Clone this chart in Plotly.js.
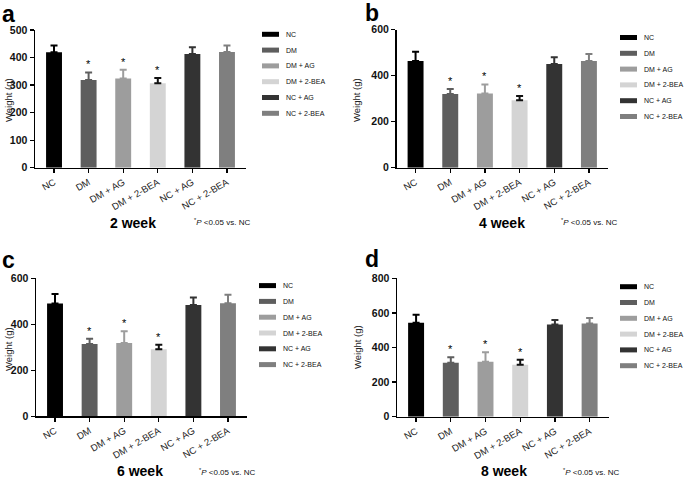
<!DOCTYPE html>
<html><head><meta charset="utf-8">
<script src="https://cdn.plot.ly/plotly-3.0.1.min.js"></script>
<style>html,body{margin:0;padding:0;background:#fff}#chart{width:685px;height:478px}</style>
</head><body><div id="chart"></div>
<script>
// ---- data ----
const groups = ['NC','DM','DM + AG','DM + 2-BEA','NC + AG','NC + 2-BEA'];
const weeks = ['2 week','4 week','6 week','8 week'];
const panelLetters = ['a','b','c','d'];
const mean2 = [419,318,324,307,413,420];
const sd2   = [25,28,32,19,24,24];
const mean4 = [464,320,323,293,451,464];
const sd4   = [40,22,39,19,29,30];
const mean6 = [490,314,319,291,484,491];
const sd6   = [42,23,51,20,32,37];
const mean8 = [543,312,317,300,533,539];
const sd8   = [47,32,56,29,26,32];
const significant = [false,true,true,true,false,false];
const yMax  = [500,600,600,800];
const yStep = [100,200,200,200];
const yTitle = 'Weight (g)';
const footnote = '<sup>*</sup><i>P</i> &lt;0.05 vs. NC';

// ---- styling ----
const means = [mean2,mean4,mean6,mean8];
const sds = [sd2,sd4,sd6,sd8];
const barColors = ['#000000','#5e5e5e','#9d9d9d','#d4d4d4','#333333','#7f7f7f'];
const errColors = ['#000000','#5e5e5e','#9d9d9d','#111111','#333333','#7f7f7f'];
const W = 685, H = 478;
const px = x => x / W, py = y => 1 - y / H;
const FONT = 'Liberation Sans, Arial, sans-serif';

// panel geometry in pixels: [xLeft, xRight, yTop, yBottom]
const geo = [
  [35, 246, 30, 167.7],
  [396.5, 608, 29.7, 167.7],
  [36, 247, 278.3, 416.3],
  [397, 608.7, 278.3, 416.7]
];
const letterPos = [[0,14],[363,13],[0,260],[363,259]];
const titlePos = [[133,223],[502,223],[140,471],[504,471]];
const notePos = [[192,222],[559,222],[197,472],[561,472]];
const yTitlePos = [[8,100],[356,100],[8,349],[357,347]];
const legendPos = [[262,34.3],[620,37.5],[259,285.6],[620,286.7]]; // swatch left, first row center
const legendStep = 15.8;

const traces = [];
const layout = {
  width: W, height: H,
  margin: {l:0, r:0, t:0, b:0},
  paper_bgcolor: '#fff', plot_bgcolor: 'rgba(0,0,0,0)',
  showlegend: false,
  barmode: 'overlay',
  annotations: [], shapes: [],
  font: {family: FONT, color: '#111'}
};

for (let p = 0; p < 4; p++) {
  const sfx = p === 0 ? '' : String(p + 1);
  const [xl, xr, yt, yb] = geo[p];
  layout['xaxis' + sfx] = {
    domain: [px(xl), px(xr)], anchor: 'y' + sfx,
    type: 'category', range: [-0.55, 5.55],
    showline: true, linecolor: '#000', linewidth: 1.5,
    ticks: 'outside', ticklen: 4, tickwidth: 1.3, tickcolor: '#000',
    tickangle: -30, tickfont: {family: FONT, size: 9.5, color: '#222'},
    showgrid: false, zeroline: false, fixedrange: true
  };
  layout['yaxis' + sfx] = {
    domain: [py(yb), py(yt)], anchor: 'x' + sfx,
    range: [0, yMax[p]], tick0: 0, dtick: yStep[p],
    showline: true, linecolor: '#000', linewidth: 1.5,
    ticks: 'outside', ticklen: 4, tickwidth: 1.3, tickcolor: '#000',
    tickfont: {family: FONT, size: 10.5, color: '#111', weight: 'bold'},
    showgrid: false, zeroline: false, fixedrange: true
  };
  for (let g = 0; g < groups.length; g++) {
    traces.push({
      type: 'bar', x: [groups[g]], y: [means[p][g]],
      xaxis: 'x' + sfx, yaxis: 'y' + sfx,
      width: 0.46,
      marker: {color: barColors[g], line: {width: 0}},
      error_y: {type: 'data', symmetric: false, array: [sds[p][g]], arrayminus: [0],
                color: errColors[g], thickness: 2, width: 3.5},
      hoverinfo: 'skip'
    });
    if (significant[g]) {
      layout.annotations.push({
        xref: 'x' + sfx, yref: 'y' + sfx, x: groups[g], y: means[p][g] + sds[p][g],
        text: '*', showarrow: false, yanchor: 'bottom', yshift: 0,
        font: {family: FONT, size: 11, color: '#000000'}
      });
    }
    // legend swatch + label
    const [lx, ly] = legendPos[p];
    const rowY = ly + g * legendStep;
    layout.shapes.push({
      type: 'rect', xref: 'paper', yref: 'paper',
      x0: px(lx), x1: px(lx + 17), y0: py(rowY + 2.5), y1: py(rowY - 2.5),
      fillcolor: barColors[g], line: {width: 0}
    });
    layout.annotations.push({
      xref: 'paper', yref: 'paper', x: px(lx + 22), y: py(rowY),
      xanchor: 'left', yanchor: 'middle', showarrow: false,
      text: groups[g], font: {family: FONT, size: 7, color: '#111'}
    });
  }
  // panel letter
  layout.annotations.push({
    xref: 'paper', yref: 'paper', x: px(letterPos[p][0]), y: py(letterPos[p][1]),
    xanchor: 'left', yanchor: 'middle', showarrow: false,
    text: panelLetters[p], font: {family: FONT, size: 23, color: '#000', weight: 'bold'}
  });
  // week title
  layout.annotations.push({
    xref: 'paper', yref: 'paper', x: px(titlePos[p][0]), y: py(titlePos[p][1]),
    xanchor: 'center', yanchor: 'middle', showarrow: false,
    text: weeks[p], font: {family: FONT, size: 14, color: '#000', weight: 'bold'}
  });
  // footnote
  layout.annotations.push({
    xref: 'paper', yref: 'paper', x: px(notePos[p][0]), y: py(notePos[p][1]),
    xanchor: 'left', yanchor: 'middle', showarrow: false,
    text: footnote, font: {family: FONT, size: 8, color: '#111'}
  });
  // y title
  layout.annotations.push({
    xref: 'paper', yref: 'paper', x: px(yTitlePos[p][0]), y: py(yTitlePos[p][1]),
    xanchor: 'center', yanchor: 'middle', showarrow: false, textangle: -90,
    text: yTitle, font: {family: FONT, size: 9.5, color: '#222'}
  });
}

Plotly.newPlot('chart', traces, layout, {staticPlot: true, displayModeBar: false});
</script>
</body></html>
